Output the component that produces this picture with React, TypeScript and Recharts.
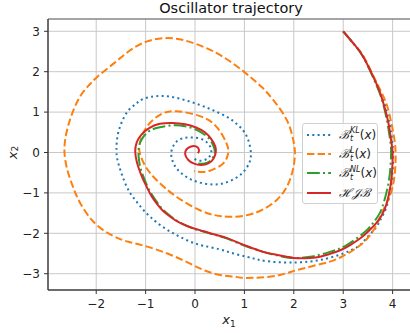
import React from 'react';
import {
  ComposedChart,
  Line,
  XAxis,
  YAxis,
  CartesianGrid,
  ReferenceLine,
} from 'recharts';

// axis ticks
const xTicks = [-2, -1, 0, 1, 2, 3, 4];
const yTicks = [-3, -2, -1, 0, 1, 2, 3];

// B_t^KL(x) trajectory
const klX = [
  3.0, 3.22, 3.41, 3.61, 3.75, 3.85, 3.94, 3.99, 4.01, 4.0, 3.97, 3.94, 3.86, 3.76, 3.66, 3.5,
  3.34, 3.17, 3.0, 2.77, 2.53, 2.3, 2.06, 1.8, 1.52, 1.27, 1.05, 0.78, 0.51, 0.18, -0.07, -0.3,
  -0.5, -0.7, -0.88, -1.04, -1.18, -1.31, -1.42, -1.51, -1.57, -1.59, -1.55, -1.38, -1.2, -1.04,
  -0.7, -0.3, 0.11, 0.45, 0.75, 0.97, 1.08, 1.13, 1.1, 0.98, 0.8, 0.58, 0.37, 0.15, -0.06, -0.24,
  -0.38, -0.46, -0.48, -0.42, -0.3, -0.13, 0.05, 0.2, 0.3, 0.33, 0.28, 0.18, 0.06, -0.04,
];
const klY = [
  3.0, 2.68, 2.36, 1.87, 1.5, 1.15, 0.7, 0.3, -0.02, -0.45, -0.8, -1.05, -1.4, -1.65, -1.86, -2.08,
  -2.29, -2.41, -2.5, -2.59, -2.66, -2.7, -2.72, -2.72, -2.7, -2.65, -2.58, -2.5, -2.4, -2.31,
  -2.22, -2.09, -1.96, -1.8, -1.62, -1.43, -1.22, -1.01, -0.74, -0.44, -0.18, 0.06, 0.51, 0.99,
  1.2, 1.33, 1.4, 1.33, 1.17, 1.0, 0.8, 0.55, 0.3, 0.0, -0.25, -0.48, -0.65, -0.76, -0.79, -0.76,
  -0.68, -0.55, -0.38, -0.19, 0.01, 0.2, 0.33, 0.37, 0.36, 0.29, 0.16, 0.02, -0.12, -0.19, -0.2,
  -0.13,
];

// B_t^L(x) trajectory
const lX = [
  3.0, 3.22, 3.42, 3.62, 3.77, 3.89, 3.98, 4.04, 4.06, 4.05, 4.0, 3.92, 3.81, 3.68, 3.54, 3.38,
  3.2, 2.97, 2.73, 2.45, 2.19, 1.95, 1.72, 1.45, 1.18, 0.95, 0.78, 0.51, 0.2, -0.1, -0.5, -0.97,
  -1.35, -1.65, -2.02, -2.32, -2.47, -2.58, -2.64, -2.63, -2.57, -2.47, -2.32, -2.15, -1.98,
  -1.65, -1.31, -0.97, -0.6, -0.23, 0.18, 0.58, 1.0, 1.35, 1.59, 1.86, 1.99, 2.02, 1.92, 1.65,
  1.18, 0.71, 0.4, 0.1, -0.37, -0.78, -1.0, -1.11, -1.12, -0.98, -0.7, -0.37, 0.1, 0.44, 0.64,
  0.67, 0.57, 0.3, 0.1, -0.02,
];
const lY = [
  3.0, 2.68, 2.36, 1.87, 1.5, 1.15, 0.7, 0.3, -0.02, -0.45, -0.85, -1.15, -1.43, -1.78, -2.05,
  -2.26, -2.42, -2.58, -2.7, -2.79, -2.87, -2.95, -3.03, -3.08, -3.1, -3.1, -3.07, -3.03, -2.92,
  -2.75, -2.53, -2.33, -2.21, -2.07, -1.76, -1.26, -0.85, -0.45, -0.05, 0.3, 0.65, 1.02, 1.4,
  1.66, 1.87, 2.2, 2.53, 2.75, 2.83, 2.78, 2.61, 2.36, 1.99, 1.62, 1.29, 0.8, 0.3, -0.11, -0.68,
  -1.18, -1.51, -1.59, -1.55, -1.43, -1.1, -0.68, -0.35, -0.05, 0.22, 0.63, 0.94, 1.02, 0.9, 0.63,
  0.22, -0.02, -0.27, -0.45, -0.48, -0.46,
];

// B_t^NL(x) trajectory
const nlX = [
  3.0, 3.22, 3.41, 3.6, 3.73, 3.82, 3.9, 3.95, 3.97, 3.95, 3.91, 3.83, 3.74, 3.62, 3.48, 3.28,
  3.07, 2.9, 2.73, 2.53, 2.33, 2.1, 1.86, 1.6, 1.38, 1.15, 0.91, 0.65, 0.4, 0.18, -0.02, -0.16,
  -0.34, -0.5, -0.65, -0.77, -0.88, -0.97, -1.05, -1.11, -1.14, -1.14, -1.09, -0.98, -0.8, -0.55,
  -0.3, -0.05, 0.15, 0.3, 0.38, 0.4, 0.35, 0.25, 0.12, 0.0,
];
const nlY = [
  3.0, 2.68, 2.36, 1.87, 1.5, 1.15, 0.7, 0.3, -0.02, -0.45, -0.8, -1.2, -1.5, -1.72, -1.92, -2.12,
  -2.29, -2.39, -2.46, -2.53, -2.58, -2.61, -2.6, -2.53, -2.46, -2.37, -2.26, -2.13, -2.04, -1.96,
  -1.89, -1.82, -1.71, -1.57, -1.41, -1.23, -1.03, -0.82, -0.58, -0.35, -0.12, 0.1, 0.3, 0.48,
  0.6, 0.66, 0.67, 0.6, 0.48, 0.32, 0.14, 0.0, -0.15, -0.25, -0.28, -0.25,
];

// HJB trajectory
const hjbX = [
  3.0, 3.22, 3.41, 3.61, 3.74, 3.83, 3.92, 3.97, 4.0, 3.99, 3.96, 3.88, 3.78, 3.66, 3.5, 3.34,
  3.14, 2.94, 2.73, 2.53, 2.33, 2.16, 2.0, 1.86, 1.6, 1.38, 1.15, 0.91, 0.65, 0.4, 0.18, -0.02,
  -0.16, -0.34, -0.5, -0.65, -0.77, -0.88, -0.97, -1.06, -1.13, -1.18, -1.21, -1.18, -1.08, -0.92,
  -0.71, -0.45, -0.2, 0.02, 0.2, 0.33, 0.41, 0.42, 0.37, 0.27, 0.12, -0.03, -0.14, -0.2, -0.17,
  -0.08, 0.02, 0.08, 0.06,
];
const hjbY = [
  3.0, 2.68, 2.36, 1.87, 1.5, 1.15, 0.7, 0.3, -0.02, -0.45, -0.8, -1.26, -1.55, -1.76, -1.96,
  -2.13, -2.29, -2.42, -2.51, -2.58, -2.61, -2.62, -2.61, -2.58, -2.52, -2.46, -2.36, -2.25,
  -2.12, -2.03, -1.95, -1.88, -1.82, -1.72, -1.59, -1.44, -1.27, -1.08, -0.87, -0.64, -0.42,
  -0.22, 0.02, 0.25, 0.45, 0.61, 0.71, 0.73, 0.7, 0.62, 0.5, 0.33, 0.15, 0.0, -0.16, -0.27, -0.31,
  -0.27, -0.18, -0.04, 0.08, 0.15, 0.15, 0.07, -0.02,
];

const zip = (xs: number[], ys: number[]) => xs.map((x, i) => ({ x, y: ys[i] }));

const series = [
  { key: 'kl', sup: 'KL', data: zip(klX, klY), color: '#1f77b4', dash: '2 3.3' },
  { key: 'l', sup: 'L', data: zip(lX, lY), color: '#ff7f0e', dash: '7.4 3.2' },
  { key: 'nl', sup: 'NL', data: zip(nlX, nlY), color: '#2ca02c', dash: '12.8 3.2 2 3.2' },
  { key: 'hjb', sup: '', data: zip(hjbX, hjbY), color: '#d62728', dash: undefined },
];

const font = "'DejaVu Sans', sans-serif";
const fmt = (v: number) => (v < 0 ? `\u2212${Math.abs(v)}` : `${v}`);

function XLabel(props: any) {
  const vb = props.viewBox || {};
  const cx = vb.x + vb.width / 2 - 2;
  return (
    <text x={cx} y={vb.y + 34} textAnchor="middle" fontFamily={font} fontSize={13} fill="#222">
      <tspan fontStyle="italic">x</tspan>
      <tspan fontSize={9} dy={3}>1</tspan>
    </text>
  );
}

function YLabel(props: any) {
  const vb = props.viewBox || {};
  const cx = 12;
  const cy = vb.y + vb.height / 2 - 2;
  return (
    <text
      x={cx}
      y={cy}
      textAnchor="middle"
      dominantBaseline="central"
      transform={`rotate(-90, ${cx}, ${cy})`}
      fontFamily={font}
      fontSize={13}
      fill="#222"
    >
      <tspan fontStyle="italic">x</tspan>
      <tspan fontSize={9} dy={3}>2</tspan>
    </text>
  );
}

function EntryText({ sup }: { sup: string }) {
  if (!sup) {
    return <span style={{ fontStyle: 'italic', fontFamily: "'DejaVu Serif', serif" }}>ℋ𝒥ℬ</span>;
  }
  return (
    <span style={{ whiteSpace: 'nowrap' }}>
      <span style={{ fontStyle: 'italic', fontFamily: "'DejaVu Serif', serif" }}>ℬ</span>
      <span
        style={{
          display: 'inline-flex',
          flexDirection: 'column',
          fontSize: 8,
          lineHeight: '8px',
          verticalAlign: 'middle',
          fontStyle: 'italic',
          marginLeft: 1,
        }}
      >
        <span>{sup}</span>
        <span>t</span>
      </span>
      <span>
        (<i>x</i>)
      </span>
    </span>
  );
}

function LegendBox() {
  return (
    <div
      style={{
        position: 'absolute',
        left: 302,
        top: 123,
        background: 'rgba(255,255,255,0.85)',
        border: '1px solid #d0d0d0',
        borderRadius: 3,
        padding: '1px 4px',
        width: 66,
        fontFamily: font,
        fontSize: 12,
        color: '#1a1a1a',
        zIndex: 2,
      }}
    >
      {series.map((s) => (
        <div key={s.key} style={{ display: 'flex', alignItems: 'center', height: 19.3 }}>
          <svg width={24} height={6} style={{ marginRight: 8, flexShrink: 0 }}>
            <line x1={0} y1={3} x2={24} y2={3} stroke={s.color} strokeWidth={2} strokeDasharray={s.dash} />
          </svg>
          <EntryText sup={s.sup} />
        </div>
      ))}
    </div>
  );
}

export default function App() {
  return (
    <div
      style={{
        position: 'absolute',
        left: 0,
        top: 0,
        width: 410,
        height: 333,
        overflow: 'hidden',
        background: '#fff',
      }}
    >
      <div
        style={{
          position: 'absolute',
          left: 0,
          width: 462,
          top: 0,
          textAlign: 'center',
          fontFamily: font,
          fontSize: 14.5,
          lineHeight: '17px',
          color: '#111',
          zIndex: 2,
        }}
      >
        Oscillator trajectory
      </div>
      <ComposedChart width={414} height={333} margin={{ top: 19, right: 0, bottom: 0, left: 0 }}>
        <CartesianGrid stroke="#c8c8c8" strokeWidth={1} />
        <XAxis
          type="number"
          dataKey="x"
          domain={[-2.976, 4.433]}
          ticks={xTicks}
          allowDataOverflow
          height={43}
          tickFormatter={fmt}
          tick={{ fontSize: 12, fill: '#222', fontFamily: font }}
          tickSize={4}
          tickMargin={5}
          tickLine={{ stroke: '#333' }}
          axisLine={{ stroke: '#444', strokeWidth: 1.5 }}
          label={<XLabel />}
        />
        <YAxis
          type="number"
          dataKey="y"
          domain={[-3.403, 3.304]}
          ticks={yTicks}
          allowDataOverflow
          width={48}
          tickFormatter={fmt}
          tick={{ fontSize: 12, fill: '#222', fontFamily: font }}
          tickSize={4}
          tickMargin={4}
          tickLine={{ stroke: '#333' }}
          axisLine={{ stroke: '#444', strokeWidth: 1.5 }}
          label={<YLabel />}
        />
        <ReferenceLine y={3.304} stroke="#666" strokeWidth={1} />
        {series.map((s) => (
          <Line
            key={s.key}
            data={s.data}
            dataKey="y"
            type="natural"
            stroke={s.color}
            strokeWidth={2}
            strokeDasharray={s.dash}
            dot={false}
            activeDot={false}
            isAnimationActive={false}
          />
        ))}
      </ComposedChart>
      <LegendBox />
    </div>
  );
}
